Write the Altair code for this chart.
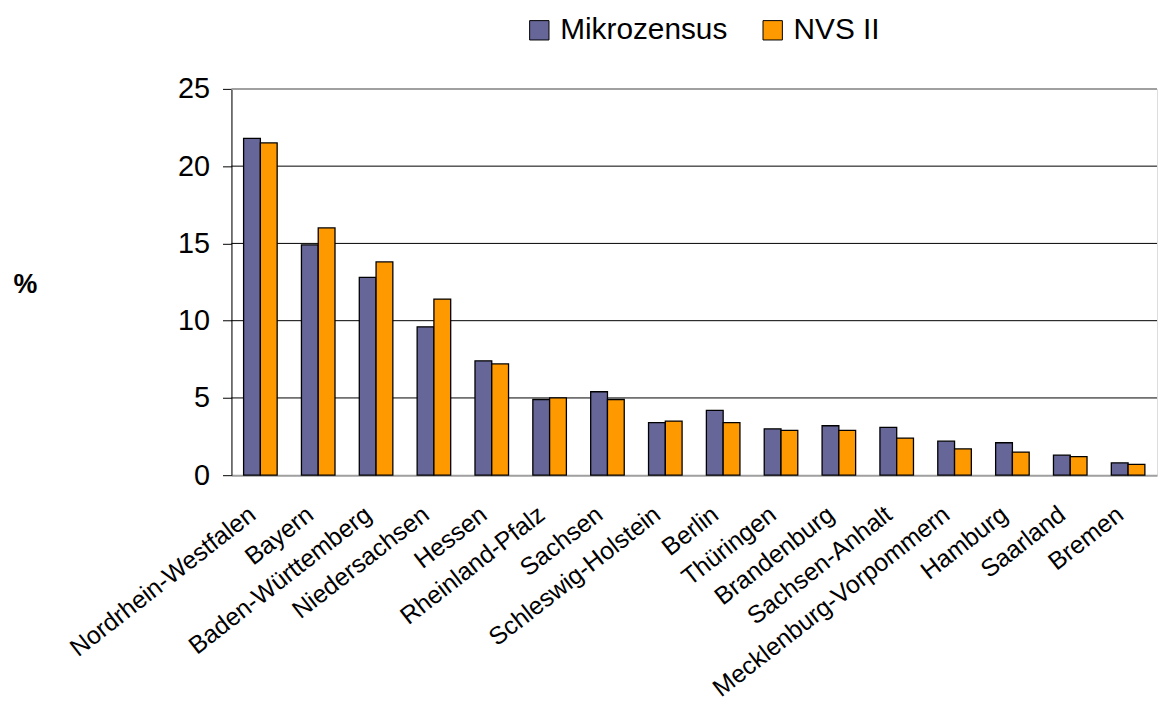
import altair as alt
import pandas as pd

states = ["Nordrhein-Westfalen", "Bayern", "Baden-Württemberg", "Niedersachsen",
          "Hessen", "Rheinland-Pfalz", "Sachsen", "Schleswig-Holstein", "Berlin",
          "Thüringen", "Brandenburg", "Sachsen-Anhalt", "Mecklenburg-Vorpommern",
          "Hamburg", "Saarland", "Bremen"]
mikrozensus = [21.8, 14.9, 12.8, 9.6, 7.4, 4.9, 5.4, 3.4, 4.2, 3.0, 3.2, 3.1, 2.2, 2.1, 1.3, 0.8]
nvs2 = [21.5, 16.0, 13.8, 11.4, 7.2, 5.0, 4.9, 3.5, 3.4, 2.9, 2.9, 2.4, 1.7, 1.5, 1.2, 0.7]
series = ["Mikrozensus", "NVS II"]
colors = ["#666699", "#FF9900"]
y_ticks = [0, 5, 10, 15, 20, 25]
grid_values = [5, 10, 15, 20]
y_max = 25

rows = []
for s, a, b in zip(states, mikrozensus, nvs2):
    rows.append({"state": s, "series": series[0], "value": a})
    rows.append({"state": s, "series": series[1], "value": b})
df = pd.DataFrame(rows)

FONT = "Liberation Sans"

yscale = alt.Scale(domain=[0, y_max], nice=False, zero=True)

grid = alt.Chart(pd.DataFrame({"value": grid_values})).mark_rule(
    color="black", strokeWidth=1
).encode(y=alt.Y("value:Q", scale=yscale, title="%"))

border = alt.Chart(pd.DataFrame({"value": [y_max]})).mark_rule(
    color="#a0a0a0", strokeWidth=2
).encode(y=alt.Y("value:Q", scale=yscale, title="%"))

bars = alt.Chart(df).mark_bar(stroke="black", strokeWidth=1.3).encode(
    x=alt.X("state:N", sort=states,
            scale=alt.Scale(paddingInner=0.42, paddingOuter=0.21),
            axis=alt.Axis(title=None, labelAngle=322, labelAlign="right",
                          labelBaseline="middle", labelPadding=36, labelOffset=-8,
                          labelFontSize=25, labelFont=FONT, labelColor="black",
                          ticks=False, domainColor="#a0a0a0", domainWidth=2,
                          labelLimit=500)),
    xOffset=alt.XOffset("series:N", sort=series),
    y=alt.Y("value:Q", scale=yscale,
            axis=alt.Axis(values=y_ticks, title="%", titleAngle=0,
                          titleX=-208, titleY=197, titleAlign="center",
                          titleBaseline="middle", titleFont=FONT,
                          titleFontSize=27, titleFontWeight="bold",
                          titleColor="black", grid=False,
                          domainColor="black", domainWidth=1,
                          tickColor="black", tickSize=9, tickWidth=1,
                          labelFont=FONT, labelFontSize=29, labelColor="black",
                          labelPadding=13)),
    color=alt.Color("series:N", sort=series,
                    scale=alt.Scale(domain=series, range=colors),
                    legend=alt.Legend(title=None, orient="none", legendX=295,
                                      legendY=-74, direction="horizontal",
                                      symbolType="square", symbolSize=380,
                                      symbolStrokeColor="black",
                                      symbolStrokeWidth=1, labelFontSize=30,
                                      labelFont=FONT, labelColor="black",
                                      labelOffset=6, columnPadding=30,
                                      labelLimit=400, padding=0)),
)

chart = alt.layer(grid, border, bars).properties(
    width=932, height=389,
    autosize=alt.AutoSizeParams(type="none"),
    padding={"left": 225, "top": 79, "right": 3, "bottom": 237},
).configure_view(stroke=None).configure(background="white")

chart.save("out.html", embed_options={"renderer": "svg", "actions": False})
